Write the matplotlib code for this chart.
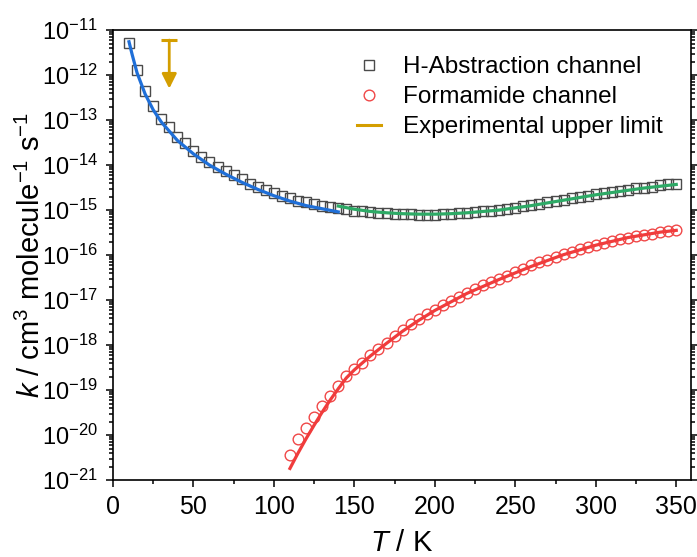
import numpy as np
import matplotlib.pyplot as plt
from matplotlib.ticker import LogLocator, NullFormatter, MultipleLocator

plt.rcParams['font.family'] = ['Liberation Sans', 'DejaVu Sans']
plt.rcParams['mathtext.fontset'] = 'custom'
plt.rcParams['mathtext.rm'] = 'Liberation Sans'
plt.rcParams['mathtext.it'] = 'Liberation Sans:italic'

# H-abstraction channel, log10(k)
T_h = list(range(10, 355, 5))
logk_h = [-11.28, -11.89, -12.35, -12.69, -12.98, -13.16, -13.37, -13.52, -13.69, -13.82,
          -13.93, -14.04, -14.13, -14.22, -14.32, -14.41, -14.48, -14.56, -14.62, -14.69,
          -14.74, -14.79, -14.83, -14.87, -14.90, -14.93, -14.95, -14.98, -15.01, -15.03,
          -15.05, -15.06, -15.07, -15.08, -15.09, -15.09, -15.10, -15.10, -15.10, -15.09,
          -15.08, -15.07, -15.06, -15.05, -15.03, -15.01, -14.99, -14.97, -14.95, -14.92,
          -14.89, -14.86, -14.83, -14.80, -14.77, -14.74, -14.71, -14.68, -14.65, -14.62,
          -14.60, -14.57, -14.55, -14.52, -14.50, -14.48, -14.45, -14.43, -14.41]

# formamide channel
T_f = list(range(110, 355, 5))
logk_f = [-20.44, -20.09, -19.84, -19.59, -19.36, -19.13, -18.91, -18.69, -18.54, -18.39,
          -18.23, -18.08, -17.95, -17.80, -17.67, -17.54, -17.43, -17.31, -17.21, -17.11,
          -17.01, -16.93, -16.84, -16.75, -16.67, -16.60, -16.53, -16.46, -16.38, -16.31,
          -16.23, -16.16, -16.10, -16.04, -15.98, -15.93, -15.87, -15.82, -15.78, -15.73,
          -15.69, -15.65, -15.61, -15.58, -15.55, -15.52, -15.49, -15.47, -15.45]

# fitted curves
T_blue = [10, 12, 15, 20, 25, 30, 40, 50, 60, 70, 80, 90, 100, 110, 120, 130, 140]
logk_blue = [-11.26, -11.55, -11.95, -12.42, -12.77, -13.04, -13.45, -13.75, -14.00, -14.20,
             -14.38, -14.54, -14.68, -14.80, -14.90, -14.97, -15.04]
T_green = [140, 150, 160, 170, 180, 190, 200, 210, 220, 230, 240, 250, 260, 270, 280, 290,
           300, 310, 320, 330, 340, 350]
logk_green = [-14.91, -14.98, -15.03, -15.06, -15.08, -15.09, -15.09, -15.08, -15.06, -15.03,
              -15.00, -14.95, -14.90, -14.84, -14.78, -14.72, -14.66, -14.61, -14.56, -14.51,
              -14.47, -14.43]
T_red = [110, 115, 120, 125, 130, 135, 140, 145, 150, 160, 170, 180, 190, 200, 220, 240,
         260, 280, 300, 320, 340, 350]
logk_red = [-20.74, -20.40, -20.08, -19.78, -19.49, -19.22, -18.97, -18.73, -18.55, -18.24,
            -17.96, -17.69, -17.45, -17.23, -16.85, -16.54, -16.25, -15.99, -15.78, -15.61,
            -15.49, -15.45]

# experimental upper limit
T_exp = 35
k_exp_top = 6e-12
k_exp_tip = 5e-13

gold = '#D49E00'

fig = plt.figure(figsize=(6.97, 5.57), dpi=100)
ax = fig.add_axes([0.162, 0.138, 0.829, 0.808])

ax.plot(T_h, 10**np.array(logk_h), 's', mfc='none', mec='#4a4a4a', ms=7.7, mew=1.0,
        label='H-Abstraction channel', zorder=2)
ax.plot(T_f, 10**np.array(logk_f), 'o', mfc='none', mec='#F04848', ms=7.7, mew=1.0,
        label='Formamide channel', zorder=2)
ax.plot(T_blue, 10**np.array(logk_blue), '-', color='#1F6FD8', lw=2.3, zorder=3)
ax.plot(T_green, 10**np.array(logk_green), '-', color='#2DAA66', lw=2.3, zorder=3)
ax.plot(T_red, 10**np.array(logk_red), '-', color='#F03C3C', lw=2.3, zorder=3)

ax.annotate('', xy=(T_exp, k_exp_tip), xytext=(T_exp, k_exp_top),
            arrowprops=dict(arrowstyle='-|>', color=gold, lw=2, mutation_scale=22,
                            shrinkA=0, shrinkB=0))
ax.plot([T_exp], [k_exp_top], marker='_', color=gold, ms=11, mew=2.2)
ax.plot([], [], '-', color=gold, lw=2.2, label='Experimental upper limit')

ax.set_yscale('log')
ax.set_xlim(0, 359)
ax.set_ylim(1e-21, 1e-11)
ax.xaxis.set_major_locator(MultipleLocator(50))
ax.xaxis.set_minor_locator(MultipleLocator(25))
ax.yaxis.set_major_locator(LogLocator(base=10, numticks=20))
ax.yaxis.set_minor_locator(LogLocator(base=10, subs=np.arange(2, 10), numticks=20))
ax.yaxis.set_minor_formatter(NullFormatter())

ax.tick_params(which='both', direction='out', right=True, top=False, width=1.1)
ax.tick_params(axis='x', labelsize=18)
ax.tick_params(axis='y', labelsize=17)
ax.tick_params(which='major', length=5, pad=6)
ax.tick_params(which='minor', length=3)
for s in ax.spines.values():
    s.set_linewidth(1.2)

ax.set_xlabel(r'$\mathit{T}$ / K', fontsize=21)
ax.set_ylabel(r'$\mathit{k}$ / cm$^3$ molecule$^{-1}$ s$^{-1}$', fontsize=21)
ax.xaxis.set_label_coords(0.5, -0.108)
ax.yaxis.set_label_coords(-0.115, 0.5)

ax.legend(loc='upper right', bbox_to_anchor=(0.99, 0.99), frameon=False, fontsize=17.5,
          handlelength=1.0, handletextpad=0.9, labelspacing=0.32)

fig.savefig('out.png', dpi=100)
